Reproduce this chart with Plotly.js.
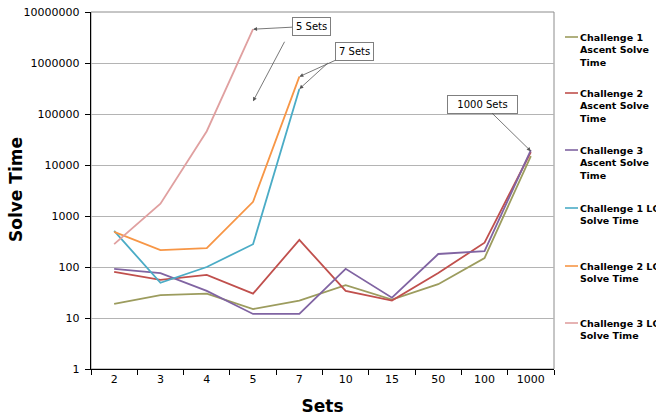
<!DOCTYPE html>
<html>
<head>
<meta charset="utf-8">
<script src="https://cdn.plot.ly/plotly-3.0.1.min.js"></script>
<style>html,body{margin:0;padding:0;background:#fff;}#chart{width:656px;height:417px;}</style>
</head>
<body>
<div id="chart"></div>
<script>
// ---- data ----
var sets = ['2', '3', '4', '5', '7', '10', '15', '50', '100', '1000'];
var seriesNames = [
  'Challenge 1 Ascent Solve Time',
  'Challenge 2 Ascent Solve Time',
  'Challenge 3 Ascent Solve Time',
  'Challenge 1 LC Solve Time',
  'Challenge 2 LC Solve Time',
  'Challenge 3 LC Solve Time'
];
var legendLabels = [
  'Challenge 1<br>Ascent Solve<br>Time',
  'Challenge 2<br>Ascent Solve<br>Time',
  'Challenge 3<br>Ascent Solve<br>Time',
  'Challenge 1 LC<br>Solve Time',
  'Challenge 2 LC<br>Solve Time',
  'Challenge 3 LC<br>Solve Time'
];
var c1Ascent = [19, 28, 30, 15, 22, 44, 23, 46, 150, 15000];
var c2Ascent = [80, 56, 70, 30, 340, 34, 22, 76, 300, 18000];
var c3Ascent = [92, 76, 34, 12, 12, 92, 25, 180, 205, 19500];
var c1LC = [510, 49, 100, 280, 310000, null, null, null, null, null];
var c2LC = [490, 215, 235, 1900, 540000, null, null, null, null, null];
var c3LC = [280, 1750, 46000, 4600000, null, null, null, null, null, null];
var yTickVals = [1, 10, 100, 1000, 10000, 100000, 1000000, 10000000];
var yTickText = ['1', '10', '100', '1000', '10000', '100000', '1000000', '10000000'];
var colors = ['#9c9c5e', '#c0504d', '#8064a2', '#4bacc6', '#f79646', '#e0a0a0'];
var allSeries = [c1Ascent, c2Ascent, c3Ascent, c1LC, c2LC, c3LC];

var traces = allSeries.map(function (vals, i) {
  return {
    x: sets, y: vals, type: 'scatter', mode: 'lines', name: seriesNames[i],
    line: {color: colors[i], width: 1.8}, showlegend: false, connectgaps: false
  };
});

// pixel geometry of plot area
var L = 91, R = 554, T = 12, B = 369;
function px(x) { return (x - L) / (R - L); }
function py(y) { return (B - y) / (B - T); }
function idx(cat) { return sets.indexOf(cat); }

var font = 'DejaVu Sans, Verdana, sans-serif';
var annotations = [];
var shapes = [
  {type: 'rect', xref: 'paper', yref: 'paper', x0: 0, x1: 1, y0: 0, y1: 1,
   line: {color: '#8c8c8c', width: 1}, layer: 'below'}
];

// y axis title
annotations.push({xref: 'paper', yref: 'paper', x: px(16), y: py(190), textangle: -90,
  showarrow: false, xanchor: 'center', yanchor: 'middle',
  text: '<b>Solve Time</b>', font: {family: font, size: 17, color: '#000'}});

// custom legend
var legendTop = [37, 93, 150, 208, 266, 323];
legendLabels.forEach(function (lab, i) {
  shapes.push({type: 'line', xref: 'paper', yref: 'paper',
    x0: px(565), x1: px(578), y0: py(legendTop[i]), y1: py(legendTop[i]),
    line: {color: colors[i], width: 1.6}});
  annotations.push({xref: 'paper', yref: 'paper', x: px(578), y: py(legendTop[i] - 7),
    xanchor: 'left', yanchor: 'top', align: 'left', showarrow: false,
    text: '<b>' + lab + '</b>', font: {family: font, size: 9.5, color: '#000'}});
});

var boxStyle = {bordercolor: '#7f7f7f', borderwidth: 1, borderpad: 3, bgcolor: '#fff',
  font: {family: font, size: 10, color: '#000'}, arrowcolor: '#555', arrowwidth: 0.8,
  arrowhead: 2, arrowsize: 1, showarrow: true};
function ann(o) { var r = {}; for (var k in boxStyle) r[k] = boxStyle[k]; for (var k2 in o) r[k2] = o[k2]; return r; }

// 5 Sets
annotations.push(ann({x: idx('5'), y: Math.log10(c3LC[3]), text: '5 Sets', ax: 58, ay: -3}));
annotations.push(ann({x: idx('5'), y: 5.25, text: ' ', ax: 36, ay: -68, borderwidth: 0, bgcolor: 'rgba(0,0,0,0)'}));
// 7 Sets
annotations.push(ann({x: idx('7'), y: Math.log10(c2LC[4]), text: '7 Sets', ax: 55, ay: -25}));
annotations.push(ann({x: idx('7'), y: Math.log10(c1LC[4]), text: ' ', ax: 33, ay: -30, borderwidth: 0, bgcolor: 'rgba(0,0,0,0)'}));
// 1000 Sets
annotations.push(ann({x: idx('1000'), y: Math.log10(18700), text: '&nbsp;&nbsp;1000 Sets&nbsp;&nbsp;', ax: -48, ay: -47}));

var layout = {
  width: 656, height: 417,
  margin: {l: L, r: 656 - R, t: T, b: 417 - B, autoexpand: false},
  paper_bgcolor: '#fff', plot_bgcolor: '#fff',
  showlegend: false,
  xaxis: {
    type: 'category', categoryorder: 'array', categoryarray: sets,
    range: [-0.5, 9.5], tickson: 'boundaries', ticks: 'outside', ticklen: 5,
    tickcolor: '#000', showline: true, linecolor: '#000', linewidth: 1.2,
    showgrid: false, zeroline: false,
    tickfont: {family: font, size: 11, color: '#000'},
    title: {text: '<b>Sets</b>', font: {family: font, size: 17, color: '#000'}, standoff: 14}
  },
  yaxis: {
    type: 'log', range: [0, 7], tickvals: yTickVals, ticktext: yTickText,
    ticks: 'outside', ticklen: 5, tickcolor: '#000', ticklabelstandoff: 3,
    showline: true, linecolor: '#000', linewidth: 1.2,
    showgrid: true, gridcolor: '#b4b4b4', gridwidth: 1, zeroline: false,
    tickfont: {family: font, size: 11, color: '#000'}
  },
  annotations: annotations,
  shapes: shapes
};

Plotly.newPlot('chart', traces, layout, {staticPlot: true, displayModeBar: false});
</script>
</body>
</html>
